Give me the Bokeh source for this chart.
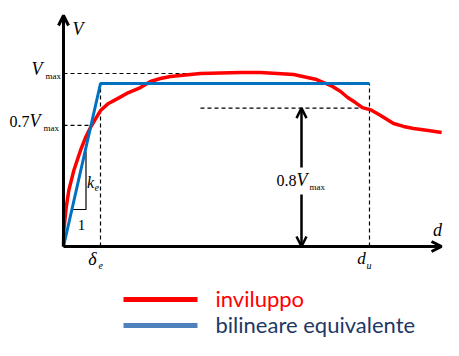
from bokeh.plotting import figure
from bokeh.models import Range1d, Label, Arrow, OpenHead
from bokeh.embed import file_html
from bokeh.resources import INLINE

# ---- data (d in units of delta_e, V in units of Vmax) ----
d_env = [0, 0.008, 0.073, 0.143, 0.278, 0.459, 0.595, 0.73, 1.0, 1.216, 1.46, 1.757,
         2.08, 2.35, 2.62, 2.89, 3.16, 3.70, 4.24, 4.78, 5.32, 5.78, 6.22, 6.59,
         6.84, 7.03, 7.27, 7.49, 7.68, 7.89, 8.08, 8.30, 8.57, 8.92, 9.19, 9.46,
         9.86, 10.22]
V_env = [0, 0.092, 0.225, 0.324, 0.439, 0.555, 0.63, 0.688, 0.786, 0.827, 0.855, 0.89,
         0.919, 0.954, 0.971, 0.983, 0.988, 1.0, 1.003, 1.006, 1.006, 1.0, 0.994, 0.977,
         0.965, 0.948, 0.925, 0.896, 0.861, 0.832, 0.803, 0.79, 0.757, 0.711, 0.694,
         0.682, 0.671, 0.659]
d_bil = [0, 1.0, 8.27]
V_bil = [0, 0.942, 0.942]
delta_e = 1.0
d_u = 8.27
Vmax = 1.0
V07 = 0.7 * Vmax
V08 = 0.8 * Vmax
legend_labels = ["inviluppo", "bilineare equivalente"]

# pixel helpers (reference picture geometry)
def X(px):
    return (px - 63) / 37.0

def Y(py):
    return (246 - py) / 173.0

p = figure(width=443, height=340, x_range=Range1d(X(0), X(443)), y_range=Range1d(Y(340), Y(0)),
           toolbar_location=None, output_backend="svg", min_border=0,
           x_axis_location=None, y_axis_location=None, title=None)
p.grid.visible = False
p.outline_line_color = None

K = "black"
DASH = "4 3"
# dashed guide lines
p.line([0, X(232)], [Vmax, Vmax], line_color=K, line_dash=DASH, line_width=1.2)
p.line([0, X(90)], [V07, V07], line_color=K, line_dash=DASH, line_width=1.2)
p.line([X(200), d_u], [V08, V08], line_color=K, line_dash=DASH, line_width=1.2)
p.line([delta_e, delta_e], [0, V_bil[1]], line_color=K, line_dash=DASH, line_width=1.2)
p.line([d_u, d_u], [0, V_bil[2]], line_color=K, line_dash=DASH, line_width=1.2)

# stiffness triangle
p.line([X(71), X(85.5), X(85.5)], [Y(209), Y(209), Y(151)], line_color=K, line_width=1.2)

# curves
p.line(d_env, V_env, line_color="#FF0000", line_width=3.5, line_join="round")
p.line(d_bil, V_bil, line_color="#0070C0", line_width=3)

# axes with arrows
p.add_layout(Arrow(end=OpenHead(size=10, line_width=3, line_color=K),
                   x_start=0, y_start=0, x_end=0, y_end=Y(15), line_width=3, line_color=K))
p.add_layout(Arrow(end=OpenHead(size=10, line_width=3, line_color=K),
                   x_start=0, y_start=0, x_end=X(441), y_end=0, line_width=3, line_color=K))

# 0.8 Vmax double arrow
xa = X(301)
p.add_layout(Arrow(end=OpenHead(size=10, line_width=2.5, line_color=K),
                   x_start=xa, y_start=Y(167), x_end=xa, y_end=V08, line_width=2.5, line_color=K))
p.add_layout(Arrow(end=OpenHead(size=10, line_width=2.5, line_color=K),
                   x_start=xa, y_start=Y(194), x_end=xa, y_end=0, line_width=2.5, line_color=K))

SERIF = "Liberation Serif"

def lab(px, py, text, size, italic=False, align="left", color=K, font=SERIF, baseline="middle"):
    p.add_layout(Label(x=X(px), y=Y(py), text=text, text_font=font, text_font_size=f"{size}px",
                       text_font_style="italic" if italic else "normal", text_align=align,
                       text_baseline=baseline, text_color=color))

# axis labels
lab(72, 28, "V", 18, italic=True)
lab(437, 229, "d", 18, italic=True, align="center")
# Vmax
lab(31, 68, "V", 18, italic=True)
lab(45, 75, "max", 9)
# 0.7 Vmax
lab(9, 121, "0.7", 16)
lab(29, 120, "V", 18, italic=True)
lab(43, 127, "max", 9)
# 0.8 Vmax
lab(276, 180, "0.8", 16)
lab(296, 179, "V", 18, italic=True)
lab(309, 186, "max", 9)
# delta_e
lab(92, 258, "δ", 18, italic=True, align="center")
lab(98, 265, "e", 10, italic=True)
# d_u
lab(361, 258, "d", 17, italic=True, align="center")
lab(366, 265, "u", 10, italic=True)
# k_e and 1
lab(90, 182, "k", 16, italic=True, align="center")
lab(94, 187, "e", 10, italic=True)
lab(81, 224, "1", 15, align="center")

# legend (kept inside the drawing area)
p.line([X(123), X(197)], [Y(299), Y(299)], line_color="#FF0000", line_width=5)
p.line([X(123), X(197)], [Y(325), Y(325)], line_color="#4F81BD", line_width=5)
lab(215, 298, legend_labels[0], 22, color="#FF0000", font="Lato")
lab(215, 324, legend_labels[1], 22, color="#1F3864", font="Lato")

open("out.html", "w").write(file_html(p, INLINE))
